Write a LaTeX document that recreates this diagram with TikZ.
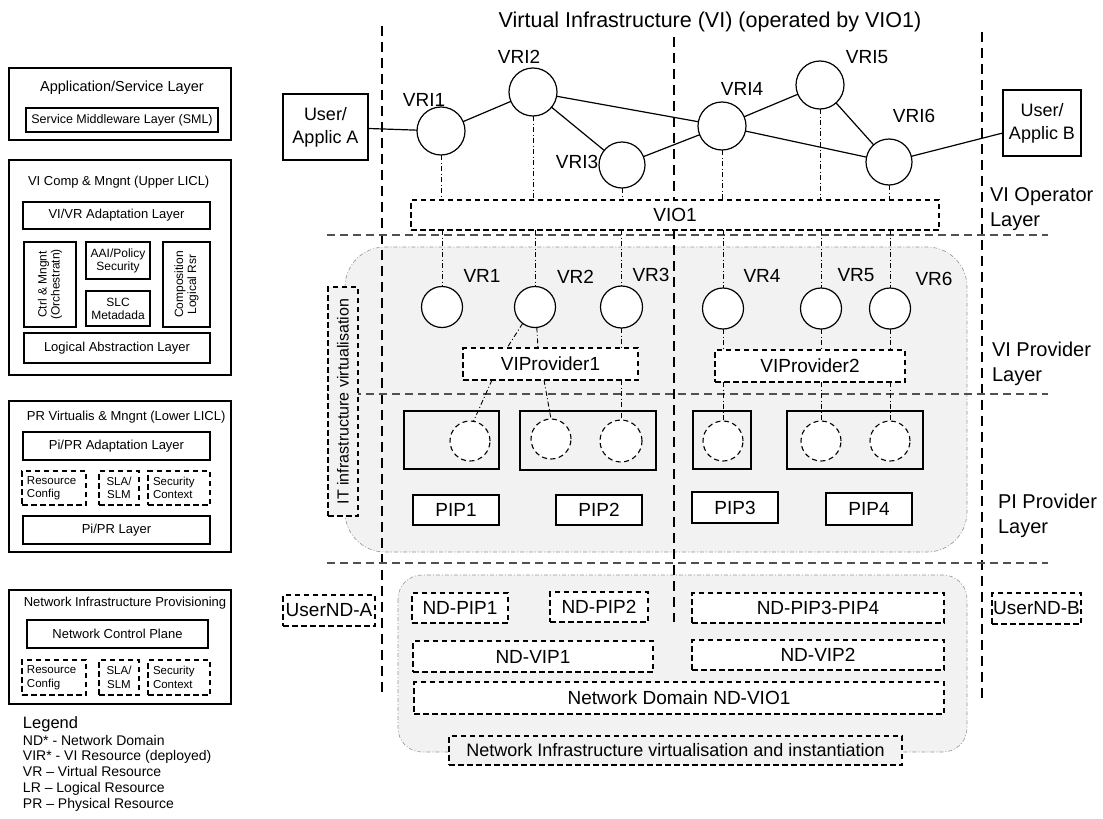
\documentclass[tikz,border=0pt]{standalone}
\usepackage{fontspec}
\setmainfont{Liberation Sans}
\usetikzlibrary{calc}
\definecolor{regfill}{RGB}{242,242,242}
\definecolor{regline}{RGB}{150,150,150}
\definecolor{hl}{RGB}{80,80,80}
\begin{document}
\begin{tikzpicture}[x=1pt,y=-1pt,
  every node/.style={inner sep=0pt,outer sep=0pt},
  f11/.style={font=\fontsize{11.5}{13.5}\selectfont},
  f12/.style={font=\fontsize{12}{13}\selectfont},
  f13/.style={font=\fontsize{13}{15}\selectfont},
  f14/.style={font=\fontsize{14.5}{17}\selectfont},
  leg/.style={font=\fontsize{14}{15}\selectfont},
  f16/.style={font=\fontsize{16.5}{19}\selectfont},
  f18/.style={font=\fontsize{18}{23}\selectfont},
  f19/.style={font=\fontsize{19}{23}\selectfont},
  f20/.style={font=\fontsize{20}{24.5}\selectfont},
  sbox/.style={draw,line width=1.2pt,fill=white},
  dbox/.style={draw,line width=1.1pt,fill=white,dash pattern=on 5.5pt off 3.5pt},
  vrc/.style={circle,draw,line width=1.2pt,fill=white,minimum size=#1},
  prc/.style={circle,draw,line width=1.1pt,fill=white,dash pattern=on 5pt off 3.5pt,minimum size=#1},
  wh/.style 2 args={minimum width=#1pt,minimum height=#2pt},
  vline/.style={line width=1.2pt,dash pattern=on 10pt off 6pt},
  hline/.style={line width=1.1pt,draw=hl,dash pattern=on 8pt off 5pt},
  ddot/.style={line width=0.9pt,dash pattern=on 5pt off 2.5pt on 1pt off 2.5pt},
  region/.style={fill=regfill,draw=regline,line width=0.6pt,dash pattern=on 4pt off 2pt on 1pt off 2pt},
  link/.style={line width=1.2pt}
]
\useasboundingbox[fill=white] (0,0) rectangle (1103,819);

% ---------------- left panel ----------------
\node[sbox,fill=none,wh={222}{72}] (appbox) at (120,104) {};
\node[f14] (apptitle) at (122,88) {Application/Service Layer};
\node[sbox,wh={192}{24},font=\fontsize{12.5}{15}\selectfont] (sml) at (122,120) {Service Middleware Layer (SML)};

\node[sbox,fill=none,wh={222}{215}] (vibox) at (120,267.5) {};
\node[f13,anchor=west] (vititle) at (28,182) {VI Comp \& Mngnt (Upper LICL)};
\node[sbox,f13,wh={187}{27}] (vivr) at (116.5,215.5) {VI/VR Adaptation Layer};
\node[sbox,wh={52}{85}] (ctrl) at (50,284.5) {};
\node[f12,rotate=90,align=center] (ctrlt) at (ctrl.center) {Ctrl \& Mngnt\\(Orchestratn)};
\node[sbox,f12,wh={64}{37},align=center] (aai) at (118,260.5) {AAI/Policy\\Security};
\node[sbox,f12,wh={64}{35},align=center] (slc) at (118,308.5) {SLC\\Metadada};
\node[sbox,wh={47}{85}] (comp) at (186.5,284.5) {};
\node[f12,rotate=90,align=center] (compt) at (comp.center) {Composition\\Logical Rsr};
\node[sbox,f13,wh={186}{30}] (lal) at (117,348) {Logical Abstraction Layer};

\node[sbox,fill=none,wh={222}{151}] (prbox) at (120,476.5) {};
\node[f13,anchor=west] (prtitle) at (27,417) {PR Virtualis \& Mngnt (Lower LICL)};
\node[sbox,f13,wh={187}{28}] (piad) at (116.5,446) {Pi/PR Adaptation Layer};
\node[dbox,wh={64}{34}] (rc1) at (54,488) {};
\node[f11,align=left,anchor=west] (rc1t) at (27,488) {Resource\\Config};
\node[dbox,f11,wh={40}{34},align=center] (sla1) at (119,488) {SLA/\\SLM};
\node[dbox,wh={62}{34}] (sc1) at (179,488) {};
\node[f11,align=left,anchor=west] (sc1t) at (153,488) {Security\\Context};
\node[sbox,f13,wh={187}{28}] (pipr) at (116.5,530) {Pi/PR Layer};

\node[sbox,fill=none,wh={222}{114}] (nibox) at (120,647) {};
\node[f13] (nititle) at (125,603) {Network Infrastructure Provisioning};
\node[sbox,f13,wh={181}{28}] (ncp) at (117.5,634) {Network Control Plane};
\node[dbox,wh={64}{35}] (rc2) at (54,677.5) {};
\node[f11,align=left,anchor=west] (rc2t) at (27,677.5) {Resource\\Config};
\node[dbox,f11,wh={40}{35},align=center] (sla2) at (119,677.5) {SLA/\\SLM};
\node[dbox,wh={62}{35}] (sc2) at (179,677.5) {};
\node[f11,align=left,anchor=west] (sc2t) at (153,677.5) {Security\\Context};

\node[f16,anchor=base west] (legt) at (23,728) {Legend};
\node[leg,anchor=base west] (leg1) at (23,745) {ND* - Network Domain};
\node[leg,anchor=base west] (leg2) at (23,760.5) {VIR* - VI Resource (deployed)};
\node[leg,anchor=base west] (leg3) at (23,776) {VR – Virtual Resource};
\node[leg,anchor=base west] (leg4) at (23,792) {LR – Logical Resource};
\node[leg,anchor=base west] (leg5) at (23,808) {PR – Physical Resource};

% ---------------- main diagram: background ----------------
\draw[region,rounded corners=40pt] (345,247) rectangle (967,552);
\draw[region,rounded corners=24pt] (398,575) rectangle (967,752);

\draw[vline] (382,26) -- (382,697);
\draw[vline] (674,37) -- (674,622);
\draw[vline] (982,32) -- (982,702);
\draw[hline] (327,235) -- (1048,235);
\draw[hline] (327,394) -- (1048,394);
\draw[hline] (327,563) -- (1048,563);

\node[font=\fontsize{21.5}{25}\selectfont] (title) at (710,22) {Virtual Infrastructure (VI) (operated by VIO1)};

% VI operator layer
\node[sbox,f18,wh={85}{66},align=center] (usera) at (325.5,127) {User/\\Applic A};
\node[sbox,f18,wh={78}{66},align=center] (userb) at (1042,123) {User/\\Applic B};
\node[vrc=48pt] (vri1) at (441,131) {};
\node[vrc=48pt] (vri2) at (533,92) {};
\node[vrc=46pt] (vri3) at (622,165) {};
\node[vrc=48pt] (vri4) at (722,126) {};
\node[vrc=48pt] (vri5) at (820,85) {};
\node[vrc=46pt] (vri6) at (889,162) {};
\node[f19] (lvri1) at (424,100) {VRI1};
\node[f19] (lvri2) at (519,57) {VRI2};
\node[f19] (lvri3) at (577,162) {VRI3};
\node[f19] (lvri4) at (742,89) {VRI4};
\node[f19] (lvri5) at (867,57) {VRI5};
\node[f19] (lvri6) at (914,115.5) {VRI6};
\node[dbox,f19,wh={528}{30}] (vio1) at (675,215) {VIO1};

\draw[link] (usera) -- (vri1);
\draw[link] (vri1) -- (vri2);
\draw[link] (vri2) -- (vri3);
\draw[link] (vri2) -- (vri4);
\draw[link] (vri3) -- (vri4);
\draw[link] (vri4) -- (vri5);
\draw[link] (vri5) -- (vri6);
\draw[link] (vri4) -- (vri6);
\draw[link] (vri6) -- (userb);

\foreach \n in {vri1,vri2,vri3,vri4,vri5,vri6}
  \draw[ddot] (\n.south) -- (\n.south |- vio1.north);

% VI provider layer
\node[dbox,fill=regfill,wh={30}{229}] (itbox) at (343,401.5) {};
\node[rotate=90,font=\fontsize{16}{19}\selectfont] (itt) at (itbox.center) {IT infrastructure virtualisation};

\node[vrc=41pt] (vr1) at (442,307) {};
\node[vrc=41pt] (vr2) at (535,307) {};
\node[vrc=42pt] (vr3) at (621.5,307) {};
\node[vrc=41pt] (vr4) at (723,308.5) {};
\node[vrc=41pt] (vr5) at (821,308.5) {};
\node[vrc=41pt] (vr6) at (890,308.5) {};
\node[f19] (lvr1) at (482,275.5) {VR1};
\node[f19] (lvr2) at (575.5,276.5) {VR2};
\node[f19] (lvr3) at (651,275) {VR3};
\node[f19] (lvr4) at (762,275.5) {VR4};
\node[f19] (lvr5) at (856,275) {VR5};
\node[f19] (lvr6) at (934,279) {VR6};

\foreach \n in {vr1,vr2,vr3,vr4,vr5,vr6}
  \draw[ddot] (\n.north |- vio1.south) -- (\n.north);

\node[dbox,f19,wh={175}{32}] (vp1) at (550.5,364) {VIProvider1};
\node[dbox,f19,wh={190}{32}] (vp2) at (810,366) {VIProvider2};

% PI provider layer
\node[sbox,fill=none,wh={95}{58}] (pa) at (451.5,440) {};
\node[sbox,fill=none,wh={136}{59}] (pb) at (588,440.5) {};
\node[sbox,fill=none,wh={58}{58}] (pc) at (722,440) {};
\node[sbox,fill=none,wh={136}{58}] (pd) at (855,440) {};
\node[prc=40pt] (pc1) at (470,441) {};
\node[prc=40pt] (pc2) at (551,439) {};
\node[prc=42pt] (pc3) at (621,441) {};
\node[prc=40pt] (pc4) at (723,441) {};
\node[prc=40pt] (pc5) at (821,441) {};
\node[prc=40pt] (pc6) at (890,441) {};

\draw[ddot] (vr2.233) -- ($(vp1.north west)+(44,0)$);
\draw[ddot] (vr2.275) -- ($(vp1.north west)+(75,0)$);
\draw[ddot] (vr3.south) -- (vr3.south |- vp1.north);
\draw[ddot] ($(vp1.south west)+(29,0)$) -- (pc1.80);
\draw[ddot] ($(vp1.south west)+(81,0)$) -- (pc2.north);
\draw[ddot] (pc3.north |- vp1.south) -- (pc3.north);
\foreach \a/\b in {vr4/pc4,vr5/pc5,vr6/pc6}{
  \draw[ddot] (\a.south) -- (\a.south |- vp2.north);
  \draw[ddot] (\b.north |- vp2.south) -- (\b.north);
}

\node[sbox,f19,wh={86}{30}] (pip1) at (456,510) {PIP1};
\node[sbox,f19,wh={86}{30}] (pip2) at (599,510) {PIP2};
\node[sbox,f19,wh={86}{31}] (pip3) at (735,507.5) {PIP3};
\node[sbox,f19,wh={86}{32}] (pip4) at (869,509) {PIP4};

% layer labels
\node[f20,align=left,anchor=west] (lop) at (990,209) {VI Operator\\Layer};
\node[f20,align=left,anchor=west] (lvp) at (992,364) {VI Provider\\Layer};
\node[f20,align=left,anchor=west] (lpp) at (998,516) {PI Provider\\Layer};

% network domain
\node[dbox,f19,wh={92}{31}] (ndua) at (329,610.5) {UserND-A};
\node[dbox,f19,wh={89}{31}] (ndub) at (1036.5,608.5) {UserND-B};
\node[dbox,f19,wh={96}{30}] (ndp1) at (460,608) {ND-PIP1};
\node[dbox,f19,wh={98}{30}] (ndp2) at (599,607) {ND-PIP2};
\node[dbox,f19,wh={252}{30}] (ndp34) at (818,608) {ND-PIP3-PIP4};
\node[dbox,f19,wh={240}{31}] (ndv1) at (533,656.5) {ND-VIP1};
\node[dbox,f19,wh={252}{30}] (ndv2) at (818,655) {ND-VIP2};
\node[dbox,f19,wh={530}{32}] (ndvio) at (679,698) {Network Domain ND-VIO1};
\node[dbox,f18,fill=regfill,wh={453}{29}] (nivi) at (675.5,750.5) {Network Infrastructure virtualisation and instantiation};
\end{tikzpicture}
\end{document}
